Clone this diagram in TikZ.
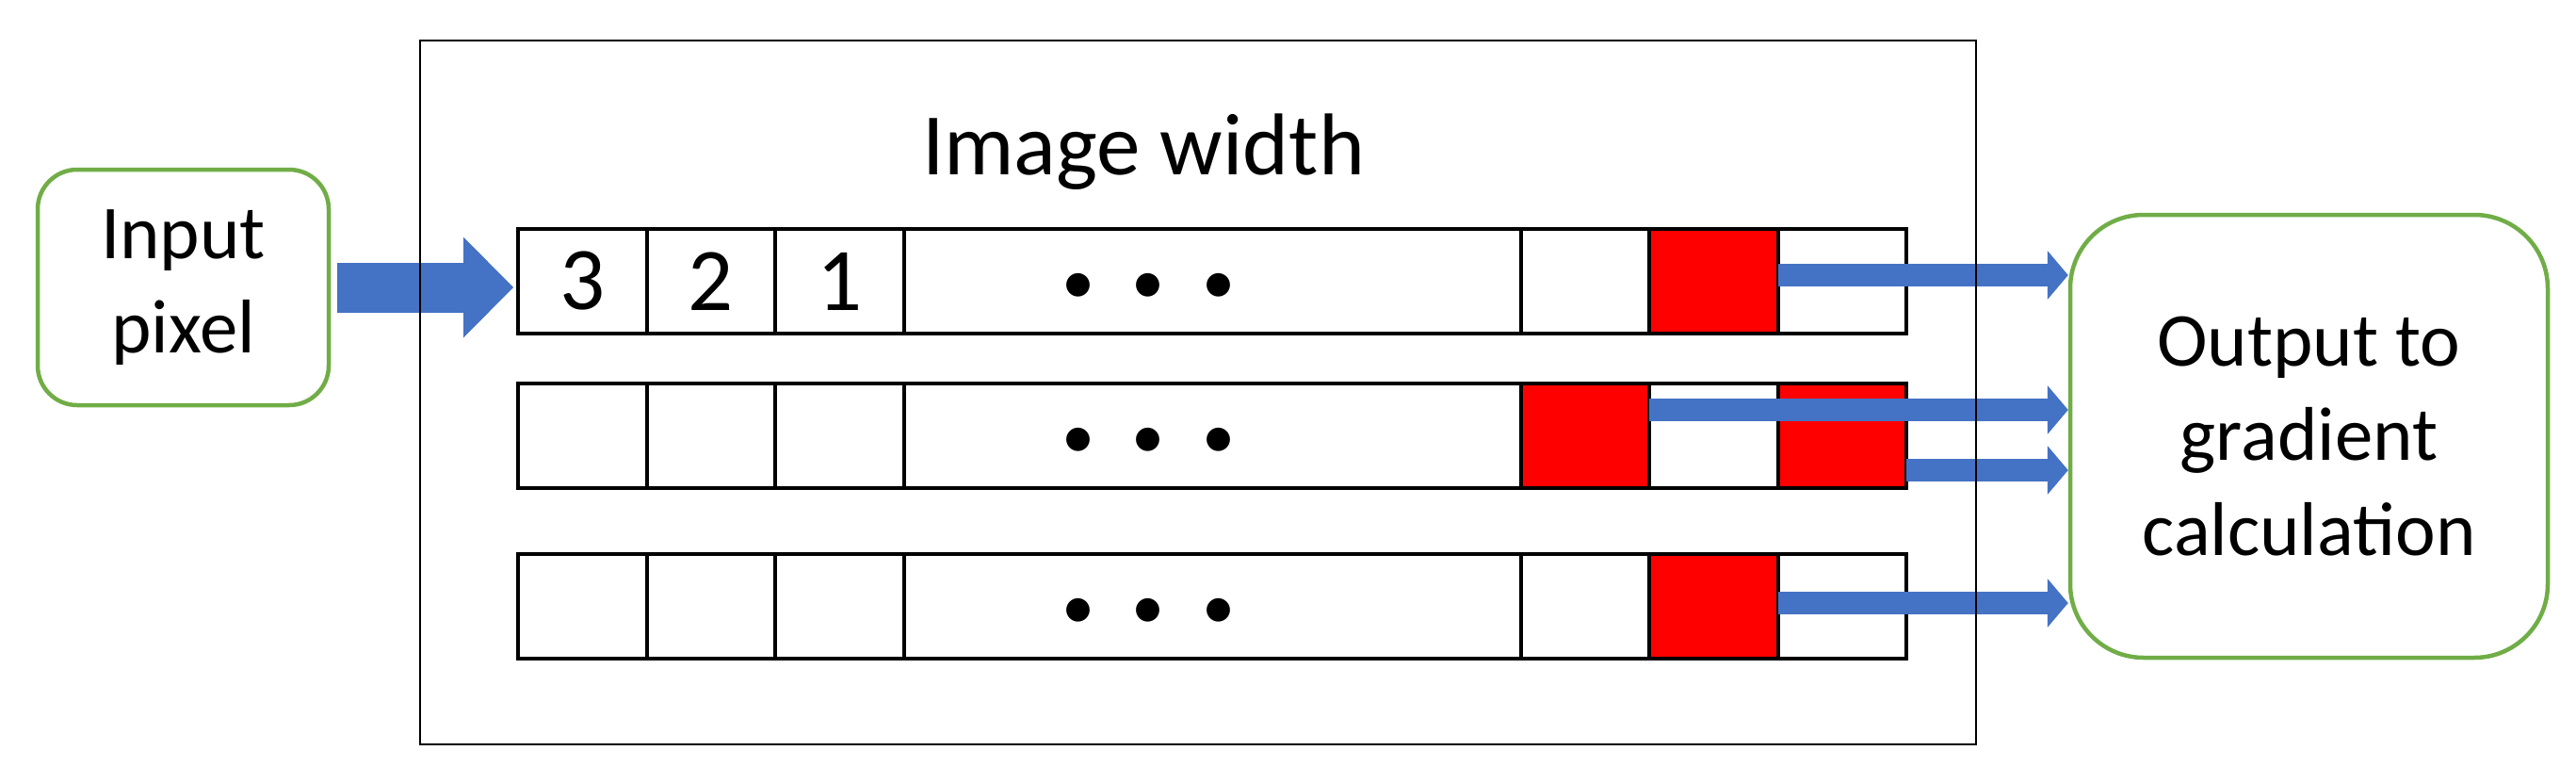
\documentclass[tikz,border=0pt]{standalone}
\usepackage{fontspec}
\setmainfont{Carlito}
\usetikzlibrary{positioning,arrows.meta}
\definecolor{boxgreen}{HTML}{70AD47}
\definecolor{flowblue}{HTML}{4472C4}
\definecolor{cellred}{HTML}{FF0000}

\begin{document}
\begin{tikzpicture}[
  cell/.style={draw, line width=0.04cm, minimum width=1.365cm, minimum height=1.11cm,
               inner sep=0pt, outer sep=0pt},
  dotcell/.style={cell, minimum width=6.55cm},
  pixbox/.style={draw=boxgreen, line width=0.045cm, align=center, inner sep=0pt,
                 font=\fontsize{23}{28.5}\selectfont},
  digit/.style={font=\fontsize{27}{32}\selectfont},
  dotrow/.style={font=\fontsize{20}{24}\selectfont, anchor=base, inner sep=0pt},
  flow/.style={flowblue, line width=0.24cm,
               -{Triangle[length=0.22cm, width=0.52cm, line width=0pt]}},
  bigflow/.style={flowblue, line width=0.53cm,
                  -{Triangle[length=0.53cm, width=1.07cm, line width=0pt]}}
]
  \useasboundingbox (0,0) rectangle (27.35,8.30);

  \node[pixbox, rounded corners=0.42cm, minimum width=3.09cm, minimum height=2.5cm]
    (in) at (1.945,5.25) {Input\\pixel};
  \node[pixbox, rounded corners=0.78cm, minimum width=5.07cm, minimum height=4.7cm]
    (out) at (24.515,3.67) {Output to\\gradient\\calculation};

  \node[font=\fontsize{26.5}{32}\selectfont, anchor=base] (title) at (12.14,6.45) {Image width};

  % three line buffers
  \foreach \r/\y in {a/5.87, b/4.23, c/2.42} {
    \node[cell, anchor=north west] (\r1) at (5.50,\y) {};
    \node[cell, right=0pt of \r1] (\r2) {};
    \node[cell, right=0pt of \r2] (\r3) {};
    \node[dotcell, right=0pt of \r3] (\r4) {};
    \node[cell, right=0pt of \r4] (\r5) {};
    \node[cell, right=0pt of \r5] (\r6) {};
    \node[cell, right=0pt of \r6] (\r7) {};
    \node[dotrow] (\r-dots) at ([xshift=-0.675cm, yshift=-2.4mm]\r4.center)
      {\makebox[7.45mm]{•}\makebox[7.45mm]{•}\makebox[7.45mm]{•}};
  }

  \node[digit] (d3) at (a1) {3};
  \node[digit] (d2) at (a2) {2};
  \node[digit] (d1) at (a3) {1};

  \begin{scope}[line width=0.04cm]
    \draw[fill=cellred] (a6.south west) rectangle (a6.north east);
    \draw[fill=cellred] (b5.south west) rectangle (b5.north east);
    \draw[fill=cellred] (b7.south west) rectangle (b7.north east);
    \draw[fill=cellred] (c6.south west) rectangle (c6.north east);
  \end{scope}

  \draw[bigflow] ([xshift=0.07cm]in.east) -- ([xshift=-0.05cm]in.east -| a1.west);

  \coordinate (o1) at ([yshift=0.65mm]a6.east);
  \coordinate (o2) at ([yshift=2.75mm]b5.east);
  \coordinate (o3) at ([yshift=-3.65mm]b7.east);
  \coordinate (o4) at ([yshift=0.35mm]c6.east);
  \draw[flow] (o1) -- (o1 -| out.west);
  \draw[flow] (o2) -- (o2 -| out.west);
  \draw[flow] (o3) -- (o3 -| out.west);
  \draw[flow] (o4) -- (o4 -| out.west);

  \node[draw, line width=0.025cm, minimum width=16.52cm, minimum height=7.47cm,
        inner sep=0pt] (frame) at (12.72,4.135) {};
\end{tikzpicture}
\end{document}
